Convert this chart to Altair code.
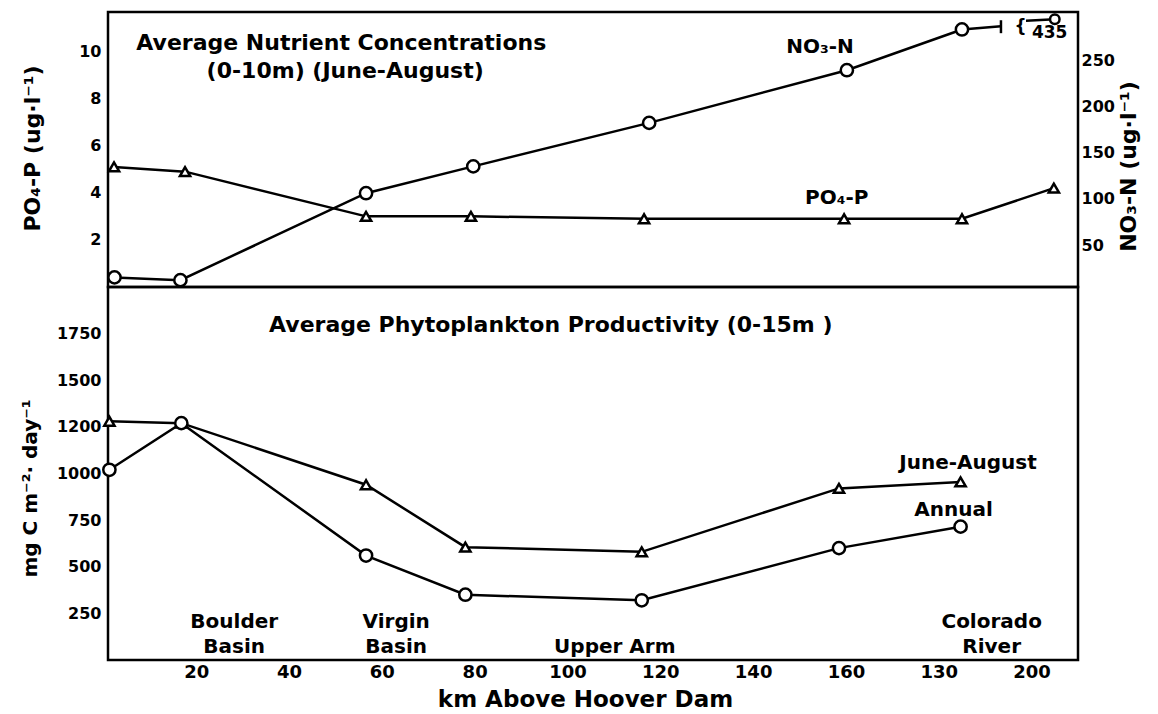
import altair as alt
import pandas as pd

FONT = "DejaVu Sans"

# ---------------- data ----------------
# Top panel: average nutrient concentrations (0-10 m), June-August
po4_km = [2.3, 17.6, 56.6, 79.2, 116.5, 159.6, 185.0, 204.8]
po4_val = [5.1, 4.9, 3.0, 3.0, 2.9, 2.9, 2.9, 4.2]          # PO4-P, ug/l (left axis)

no3_km = [2.4, 16.6, 56.6, 79.7, 117.6, 160.2, 185.0]
no3_val = [15, 12, 106, 135, 182, 239, 283]                 # NO3-N, ug/l (right axis)
no3_off_km = [205.0]                                        # off-scale station
no3_off_label = ["435"]                                     # its true value
no3_off_plot = [294]                                        # where it sits on the broken axis
no3_break_km = [193.4]                                      # axis-break tick on the line
no3_break_lo = [279]
no3_break_hi = [293]
no3_to_break_km = [185.0, 193.4]
no3_to_break_val = [283, 286.5]
no3_after_break_km = [198.8, 205.0]
no3_after_break_val = [292.5, 294]

# Bottom panel: average phytoplankton productivity (0-15 m), mg C m-2 day-1
prod_km = [1.3, 16.8, 56.6, 78.0, 116.0, 158.5, 184.7]
june_aug = [1280, 1270, 940, 605, 580, 920, 955]
annual = [1020, 1270, 560, 350, 320, 600, 715]

x_ticks = [20, 40, 60, 80, 100, 120, 140, 160, 180, 200]
left_top_ticks = [2, 4, 6, 8, 10]
right_top_ticks = [50, 100, 150, 200, 250]
bottom_ticks = [250, 500, 750, 1000, 1250, 1500, 1750]

W = 970
H_TOP = 275
H_BOT = 373

LW = 2.5

# ---------------- encodings ----------------
x_scale = alt.Scale(domain=[1, 210], nice=False, zero=False)
X_TOP = alt.X("km:Q", scale=x_scale, axis=None)


def y_top_left():
    return alt.Y(
        "v:Q",
        scale=alt.Scale(domain=[0, 11.68], nice=False, zero=False),
        axis=alt.Axis(values=left_top_ticks, title="PO₄-P (ug·l⁻¹)", orient="left",
                      ticks=False, domain=False, grid=False, format="d",
                      labelFontSize=16, labelPadding=7,
                      titleFontSize=22, titleX=-76, titleY=136, titleAngle=270,
                      titleAlign="center", titleBaseline="middle"),
    )


def y_top_right():
    return alt.Y(
        "v:Q",
        scale=alt.Scale(domain=[4.6, 301.9], nice=False, zero=False),
        axis=alt.Axis(values=right_top_ticks, title="NO₃-N (ug·l⁻¹)", orient="right",
                      ticks=False, domain=False, grid=False, format="d",
                      labelFontSize=16, labelPadding=3,
                      titleFontSize=22, titleX=50, titleY=154, titleAngle=270,
                      titleAlign="center", titleBaseline="middle"),
    )


def y_bottom():
    return alt.Y(
        "v:Q",
        scale=alt.Scale(domain=[0, 2000], nice=False, zero=False),
        axis=alt.Axis(values=bottom_ticks, title="mg C m⁻²· day⁻¹", orient="left",
                      format="d",
                      labelExpr="datum.value == 1250 ? '1200' : datum.label",
                      ticks=False, domain=False, grid=False,
                      labelFontSize=16, labelPadding=7,
                      titleFontSize=20, titleX=-78, titleY=201, titleAngle=270,
                      titleAlign="center", titleBaseline="middle"),
    )


X_BOT = alt.X(
    "km:Q",
    scale=x_scale,
    axis=alt.Axis(values=x_ticks, title="km  Above Hoover Dam", format="d",
                  labelExpr="datum.value == 180 ? '130' : datum.label",
                  ticks=False, domain=False, grid=False,
                  labelFontSize=18, labelPadding=3, labelFlush=False,
                  titleFontSize=23, titleX=477, titleY=39,
                  titleAlign="center", titleBaseline="middle"),
)


def df(km, v, **extra):
    d = {"km": km, "v": v}
    d.update(extra)
    return pd.DataFrame(d)


def line(data, x, y):
    return alt.Chart(data).mark_line(color="black", strokeWidth=LW).encode(x=x, y=y)


def pts(data, x, y, shape, size):
    return alt.Chart(data).mark_point(shape=shape, filled=True, fill="white", stroke="black",
                                      strokeWidth=LW, size=size, opacity=1).encode(x=x, y=y)


def label(data, x, y, size=18, align="center"):
    return alt.Chart(data).mark_text(font=FONT, fontWeight="bold", fontSize=size, color="black",
                                     align=align, baseline="middle").encode(x=x, y=y, text="t:N")


# ---------------- top panel ----------------
po4 = df(po4_km, po4_val)
top_left = alt.layer(
    line(po4, X_TOP, y_top_left()),
    pts(po4, X_TOP, y_top_left(), "triangle-up", 105),
    label(df([7.1], [10.37], t=["Average Nutrient Concentrations"]), X_TOP, y_top_left(), 22, "left"),
    label(df([52.1], [9.18], t=["(0-10m) (June-August)"]), X_TOP, y_top_left(), 22),
    label(df([154.4], [10.2], t=["NO₃-N"]), X_TOP, y_top_left(), 20),
    label(df([158.0], [3.78], t=["PO₄-P"]), X_TOP, y_top_left(), 20),
)

no3 = df(no3_km, no3_val)
no3_off = df(no3_off_km, no3_off_plot, t=no3_off_label)
top_right = alt.layer(
    line(no3, X_TOP, y_top_right()),
    line(df(no3_to_break_km, no3_to_break_val), X_TOP, y_top_right()),
    line(df(no3_after_break_km, no3_after_break_val), X_TOP, y_top_right()),
    alt.Chart(df(no3_break_km, no3_break_lo, v2=no3_break_hi)).mark_rule(
        color="black", strokeWidth=LW).encode(x=X_TOP, y=y_top_right(), y2="v2:Q"),
    label(df([197.6], [286], t=["{"]), X_TOP, y_top_right(), 17),
    pts(no3, X_TOP, y_top_right(), "circle", 150),
    pts(no3_off, X_TOP, y_top_right(), "circle", 90),
    label(df([203.9], [279], t=no3_off_label), X_TOP, y_top_right(), 17),
)

top = alt.layer(top_left, top_right).resolve_scale(y="independent").properties(
    width=W, height=H_TOP)

# ---------------- bottom panel ----------------
ja = df(prod_km, june_aug)
an = df(prod_km, annual)
bottom = alt.layer(
    line(ja, X_BOT, y_bottom()),
    line(an, X_BOT, y_bottom()),
    pts(ja, X_BOT, y_bottom(), "triangle-up", 105),
    pts(an, X_BOT, y_bottom(), "circle", 150),
    label(df([35.7], [1796], t=["Average Phytoplankton Productivity (0-15m )"]), X_BOT, y_bottom(), 22, "left"),
    label(df([186.3], [1056], t=["June-August"]), X_BOT, y_bottom(), 20),
    label(df([183.2], [804], t=["Annual"]), X_BOT, y_bottom(), 20),
    label(df([28.2, 28.2], [204, 70], t=["Boulder", "Basin"]), X_BOT, y_bottom(), 20),
    label(df([63.1, 63.1], [204, 70], t=["Virgin", "Basin"]), X_BOT, y_bottom(), 20),
    label(df([110.2], [70], t=["Upper   Arm"]), X_BOT, y_bottom(), 20),
    label(df([191.4, 191.4], [204, 70], t=["Colorado", "River"]), X_BOT, y_bottom(), 20),
).properties(width=W, height=H_BOT)

chart = (
    alt.vconcat(top, bottom, spacing=0, bounds="flush")
    .properties(padding={"left": 10, "top": 0, "right": 5, "bottom": 0}, background="white")
    .configure_view(stroke="black", strokeWidth=LW)
    .configure_axis(labelFont=FONT, titleFont=FONT, labelFontWeight="bold",
                    titleFontWeight="bold", labelColor="black", titleColor="black")
)

chart.save("out.html", embed_options={"renderer": "svg", "actions": False})
